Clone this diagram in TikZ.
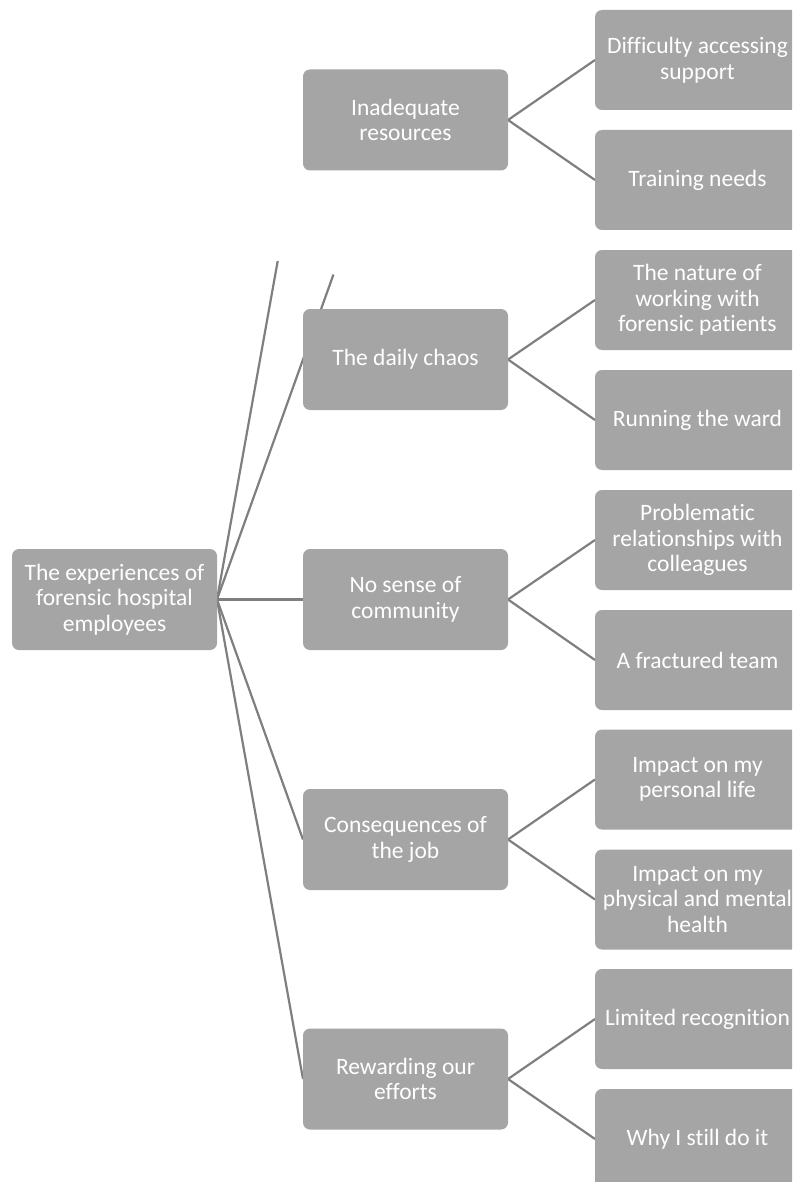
\documentclass[tikz,border=0pt]{standalone}
\usepackage{fontspec}
\setmainfont{Carlito}[Ligatures=NoCommon]
\usetikzlibrary{calc,backgrounds}
\definecolor{boxgray}{HTML}{A5A5A5}
\definecolor{linegray}{HTML}{7F7F7F}

\begin{document}
\begin{tikzpicture}[x=1pt, y=-1pt, outer sep=0pt,
  box/.style={rectangle, rounded corners=7pt, fill=boxgray, text=white,
    align=center, inner sep=0pt, minimum width=205pt, minimum height=101pt,
    font=\fontsize{23.5}{25.5}\selectfont},
  leaf/.style={box, minimum height=100pt},
  link/.style={draw=linegray, line width=2.2pt}]

\useasboundingbox (0, 0) rectangle (792, 1182);
\clip (0, 0) rectangle (792, 1182);

\node[box] at (114.5, 599.5) (ROOT) {The experiences of\\forensic hospital\\employees};

\node[box] at (405.5, 120) (INAD) {Inadequate\\resources};
\node[box] at (405.5, 359.5) (CHAOS) {The daily chaos};
\node[box] at (405.5, 599.5) (COMM) {No sense of\\community};
\node[box] at (405.5, 839.5) (CONS) {Consequences of\\the job};
\node[box] at (405.5, 1079) (REWARD) {Rewarding our\\efforts};

\node[leaf] at (697.5, 60) (DIFF) {Difficulty accessing\\support};
\node[leaf] at (697.5, 180) (TRAIN) {Training needs};
\node[leaf] at (697.5, 300) (NATURE) {The nature of\\working with\\forensic patients};
\node[leaf] at (697.5, 420) (WARD) {Running the ward};
\node[leaf] at (697.5, 540) (COLL) {Problematic\\relationships with\\colleagues};
\node[leaf] at (697.5, 660) (TEAM) {A fractured team};
\node[leaf] at (697.5, 779.5) (PERS) {Impact on my\\personal life};
\node[leaf] at (697.5, 899.5) (HEALTH) {Impact on my\\physical and mental\\health};
\node[leaf] at (697.5, 1019) (RECOG) {Limited recognition};
\node[leaf] at (697.5, 1139) (WHY) {Why I still do it};

\coordinate (INAD_CUT) at ($(ROOT.east)!0.706!(INAD.west)$);
\coordinate (CHAOS_END) at ($(ROOT.east)!1.354!(CHAOS.west)$);

\begin{scope}[on background layer]
  \draw[link] (ROOT.east) -- (INAD_CUT);
  \draw[link] (ROOT.east) -- (CHAOS_END);
  \draw[link] (ROOT.east) -- (COMM.west);
  \draw[link] (ROOT.east) -- (CONS.west);
  \draw[link] (ROOT.east) -- (REWARD.west);
  \draw[link] (INAD.east) -- (DIFF.west);
  \draw[link] (INAD.east) -- (TRAIN.west);
  \draw[link] (CHAOS.east) -- (NATURE.west);
  \draw[link] (CHAOS.east) -- (WARD.west);
  \draw[link] (COMM.east) -- (COLL.west);
  \draw[link] (COMM.east) -- (TEAM.west);
  \draw[link] (CONS.east) -- (PERS.west);
  \draw[link] (CONS.east) -- (HEALTH.west);
  \draw[link] (REWARD.east) -- (RECOG.west);
  \draw[link] (REWARD.east) -- (WHY.west);
\end{scope}
\end{tikzpicture}
\end{document}
